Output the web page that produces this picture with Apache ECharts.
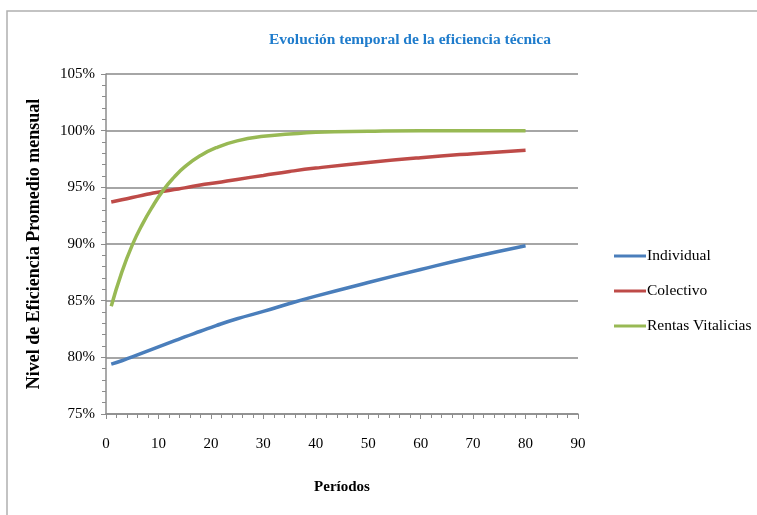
<!DOCTYPE html>
<html><head><meta charset="utf-8">
<script src="https://cdn.jsdelivr.net/npm/echarts@6/dist/echarts.min.js"></script>
<style>html,body{margin:0;padding:0;background:#fff}#c{width:757px;height:515px}</style>
</head><body><div id="c"></div>
<script>
const periods = [1,3,5,7,9,11,13,15,18,21,25,30,35,40,50,60,70,80];
const individual = [79.4,79.7,80.05,80.4,80.75,81.1,81.45,81.8,82.3,82.8,83.4,84.05,84.75,85.4,86.6,87.75,88.85,89.85];
const colectivo = [93.7,93.9,94.1,94.3,94.5,94.65,94.8,94.95,95.2,95.4,95.7,96.05,96.4,96.7,97.2,97.62,97.97,98.28];
const rentas = [84.5,87.5,89.9,91.8,93.4,94.8,95.9,96.8,97.8,98.5,99.1,99.5,99.7,99.85,99.95,100,100,100];
const seriesNames = ['Individual','Colectivo','Rentas Vitalicias'];
const title = 'Evolución temporal de la eficiencia técnica';
const xName = 'Períodos';
const yName = 'Nivel de Eficiencia Promedio mensual';

const pair = (ys) => periods.map((p,i)=>[p, ys[i]]);
const font = 'Liberation Serif';
const chart = echarts.init(document.getElementById('c'));
chart.setOption({
  animation:false,
  backgroundColor:'#fff',
  graphic:[{type:'rect',shape:{x:7,y:11,width:800,height:600},style:{fill:'none',stroke:'#b0b0b0',lineWidth:1.5}}],
  title:{text:title,left:405,top:27,textAlign:'center',textStyle:{fontFamily:font,fontSize:15.5,fontWeight:'bold',color:'#1f7ccc'}},
  legend:{orient:'vertical',left:609,top:243,itemGap:19,itemWidth:32,itemHeight:3,
    textStyle:{fontFamily:font,fontSize:15.5,color:'#000',padding:[0,0,0,-4]},
    data:seriesNames.map(n=>({name:n,icon:'rect'}))},
  grid:{left:106,right:179,top:74,bottom:101},
  xAxis:{type:'value',min:0,max:90,interval:10,name:xName,nameLocation:'middle',nameGap:66,
    nameTextStyle:{fontFamily:font,fontSize:15,fontWeight:'bold',color:'#000'},
    axisLine:{lineStyle:{color:'#8c8c8c',width:1.5}},
    axisTick:{show:true,length:5,lineStyle:{color:'#8c8c8c'}},
    minorTick:{show:true,splitNumber:5,length:4,lineStyle:{color:'#8c8c8c'}},
    axisLabel:{fontFamily:font,fontSize:15,color:'#000',margin:23},
    splitLine:{show:false}},
  yAxis:{type:'value',min:75,max:105,interval:5,name:yName,nameLocation:'middle',nameGap:63,nameRotate:90,
    nameTextStyle:{fontFamily:font,fontSize:18,fontWeight:'bold',color:'#000'},
    axisLine:{show:true,lineStyle:{color:'#8c8c8c',width:1.5}},
    axisTick:{show:true,length:5,lineStyle:{color:'#8c8c8c'}},
    minorTick:{show:true,splitNumber:5,length:4,lineStyle:{color:'#8c8c8c'}},
    axisLabel:{fontFamily:font,fontSize:15,color:'#000',margin:11,formatter:'{value}%'},
    splitLine:{show:true,lineStyle:{color:'#a6a6a6',width:2}}},
  series:[
    {name:seriesNames[0],type:'line',smooth:true,symbol:'none',data:pair(individual),lineStyle:{color:'#4a7ebb',width:3.5},itemStyle:{color:'#4a7ebb'}},
    {name:seriesNames[1],type:'line',smooth:true,symbol:'none',data:pair(colectivo),lineStyle:{color:'#be4b48',width:3.5},itemStyle:{color:'#be4b48'}},
    {name:seriesNames[2],type:'line',smooth:true,symbol:'none',data:pair(rentas),lineStyle:{color:'#98b954',width:3.5},itemStyle:{color:'#98b954'}}
  ]
});
</script></body></html>
